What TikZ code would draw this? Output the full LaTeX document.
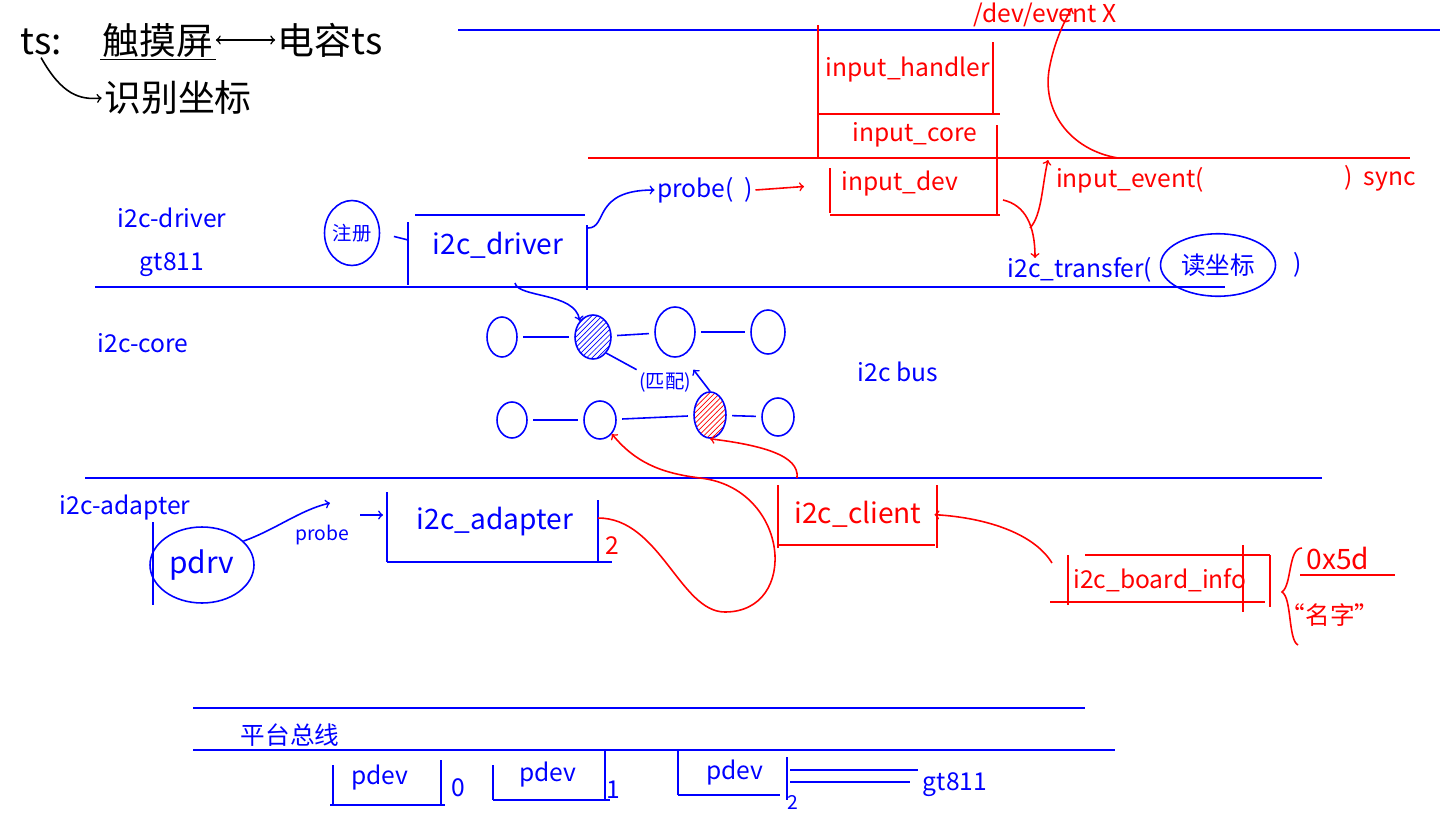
\documentclass[tikz,border=0pt]{standalone}
\usepackage{fontspec}
\setmainfont{Noto Sans CJK SC}
\usetikzlibrary{shapes.geometric,patterns}

\begin{document}
\begin{tikzpicture}[x=0.02cm, y=-0.02cm, line width=0.9pt,
  bl/.style={blue}, rd/.style={red},
  lbl/.style={inner sep=1pt, font=\fontsize{14}{16}\selectfont},
  mid/.style={inner sep=1pt, font=\fontsize{16}{18}\selectfont},
  sml/.style={inner sep=1pt, font=\fontsize{11}{13}\selectfont},
  big/.style={inner sep=1pt, font=\fontsize{21}{24}\selectfont},
  busnode/.style={draw=blue, ellipse, inner sep=0pt},
  link/.style={blue, shorten <=3pt, shorten >=3pt}]
\useasboundingbox (0,0) rectangle (1440,818);

% ts note
\node[big, anchor=west] (ts) at (18,42) {ts:};
\node[big] (tscreen) at (158,40) {触摸屏};
\node[big] (capts) at (330,40) {电容ts};
\draw[<->] (tscreen.east) -- (capts.west);
\draw (tscreen.south west) -- (tscreen.south east);
\node[big] (coord) at (178,98) {识别坐标};
\draw[->] (ts.south) .. controls (62,95) and (80,100) .. (coord.west);

% input layer
\draw[bl] (458,30) -- (1440,30);
\node[lbl, red] (handler) at (908,70) {input\_handler};
\draw[rd] (818,25) -- (818,158);
\draw[rd] (993,42) -- (993,115);
\draw[rd] (818,114) -- (1000,114);
\node[lbl, red] (icore) at (915,135) {input\_core};
\draw[rd] (997,125) -- (997,215);
\draw[rd] (588,158) -- (1410,158);
\node[lbl, red] (idev) at (900,184) {input\_dev};
\draw[rd] (830,168) -- (830,213);
\draw[rd] (830,215) -- (1000,215);
\node[lbl, red] (devev) at (1045,15) {/dev/event X};
\node[lbl, red] (ievent) at (1130,180) {input\_event(};
\node[lbl, red] (isync) at (1380,178) {)\ \ sync};
\coordinate (evfoot) at (1118,158);
\coordinate (evin) at (1072,8);
\draw[rd,->] (evfoot) .. controls (1070,150) and (1040,110) .. (1050,65)
  .. controls (1055,40) and (1065,20) .. (evin);
\coordinate (idevout) at (1003,200);
\coordinate (xferin) at (1035,258);
\draw[rd,->] (idevout) .. controls (1025,205) and (1035,225) .. (xferin);
\coordinate (xferout) at (1030,228);
\coordinate (evup) at (1048,160);
\draw[rd,->] (xferout) .. controls (1042,215) and (1042,185) .. (evup);

% i2c driver layer
\node[lbl, blue] (xfer) at (1080,270) {i2c\_transfer(};
\node[lbl, blue, draw, ellipse, inner sep=0pt, minimum width=2.3cm, minimum height=1.25cm] (readxy) at (1218,265) {读坐标};
\node[lbl, blue] (rpar) at (1298,265) {)};
\draw[bl] (95,287) -- (1225,287);
\node[mid, blue] (drv) at (498,245) {i2c\_driver};
\draw[bl] (415,215) -- (585,215);
\draw[bl] (408,222) -- (408,285);
\draw[bl] (587,225) -- (587,290);
\node[sml, blue, draw, ellipse, inner sep=0pt, minimum width=1.1cm, minimum height=1.3cm] (reg) at (352,233) {注册};
\coordinate (drvin) at (408,240);
\draw[bl, shorten <=8pt] (reg.east) -- (drvin);
\node[lbl, blue] (drvname) at (172,218) {i2c-driver};
\node[lbl, blue] (gt) at (172,265) {gt811};
\node[lbl, blue] (probe) at (705,190) {probe(\ \ )};
\coordinate (drvout) at (588,228);
\draw[bl,->] (drvout) .. controls (608,228) and (592,190) .. (probe.west);
\draw[rd,->, shorten >=20pt] (probe.east) -- (idev.west);

% i2c core
\node[lbl, blue] (core) at (143,343) {i2c-core};
\node[lbl, blue] (bus) at (898,372) {i2c bus};
\node[busnode, minimum width=0.6cm, minimum height=0.8cm] (c11) at (502,337) {};
\node[busnode, pattern=north east lines, pattern color=blue, minimum width=0.72cm, minimum height=0.88cm] (c12) at (593,337) {};
\node[busnode, minimum width=0.8cm, minimum height=1.0cm] (c13) at (675,332) {};
\node[busnode, minimum width=0.68cm, minimum height=0.88cm] (c14) at (768,332) {};
\node[busnode, minimum width=0.6cm, minimum height=0.72cm] (c21) at (512,420) {};
\node[busnode, minimum width=0.64cm, minimum height=0.76cm] (c22) at (600,420) {};
\node[busnode, pattern=north east lines, pattern color=red, minimum width=0.64cm, minimum height=0.92cm] (c23) at (710,415) {};
\node[busnode, minimum width=0.64cm, minimum height=0.76cm] (c24) at (778,417) {};
\draw[link] (c11) -- (c12);
\draw[link] (c12) -- (c13);
\draw[link] (c13) -- (c14);
\draw[link] (c21) -- (c22);
\draw[link] (c22) -- (c23);
\draw[link] (c23) -- (c24);
\node[sml, blue] (match) at (665,382) {(匹配)};
\draw[bl] (c12.south east) -- (match.north west);
\draw[bl,->] (c23.north) -- (match.north east);
\coordinate (drvhook) at (515,283);
\draw[bl,->] (drvhook) .. controls (518,298) and (575,292) .. (c12.north west);

% i2c adapter layer
\draw[bl] (85,478) -- (1322,478);
\node[lbl, blue] (adpname) at (125,508) {i2c-adapter};
\draw[bl] (153,522) -- (153,605);
\node[blue, draw, ellipse, inner sep=0pt, minimum width=2.08cm, minimum height=1.52cm, font=\fontsize{17}{19}\selectfont] (pdrv) at (202,565) {pdrv};
\node[sml, blue] (probe2) at (322,535) {probe};
\coordinate (probetip) at (330,503);
\draw[bl,->] (pdrv.30) .. controls (275,530) and (300,510) .. (probetip);
\coordinate (probeout) at (360,515);
\coordinate (adpin) at (383,515);
\draw[bl,->] (probeout) -- (adpin);
\node[mid, blue] (adp) at (495,522) {i2c\_adapter};
\draw[bl] (387,492) -- (387,562);
\draw[bl] (387,562) -- (612,562);
\draw[bl] (598,500) -- (598,562);
\node[lbl, red] (two) at (612,546) {2};
\coordinate (adpout) at (598,518);
\draw[rd,->] (adpout) .. controls (660,518) and (680,612) .. (725,612)
  .. controls (800,612) and (790,488) .. (700,478)
  .. controls (660,473) and (635,462) .. (c22.south east);
\node[mid, red] (cli) at (858,514) {i2c\_client};
\draw[rd] (778,485) -- (778,548);
\draw[rd] (937,485) -- (937,548);
\draw[rd] (778,545) -- (935,545);
\coordinate (clitop) at (797,478);
\draw[rd,->] (clitop) .. controls (800,455) and (760,445) .. (c23.south);
\node[lbl, red] (binfo) at (1160,580) {i2c\_board\_info};
\draw[rd] (1085,555) -- (1270,555);
\draw[rd] (1068,555) -- (1068,605);
\draw[rd] (1050,602) -- (1265,602);
\draw[rd] (1270,555) -- (1270,607);
\draw[rd] (1243,545) -- (1243,612);
\coordinate (binfoout) at (1052,563);
\draw[rd,->, shorten >=6pt] (binfoout) .. controls (1035,535) and (990,518) .. (cli.east);
\draw[rd] (1302,548) .. controls (1288,548) and (1292,585) .. (1282,592)
  .. controls (1292,598) and (1288,640) .. (1298,645);
\node[mid, red] (addr) at (1338,558) {0x5d};
\draw[rd] (1300,575) -- (1395,575);
\node[lbl, red] (devname) at (1330,615) {“名字”};

% platform bus
\draw[bl] (193,708) -- (1085,708);
\draw[bl] (193,750) -- (1115,750);
\node[lbl, blue] (pbus) at (290,735) {平台总线};
\node[lbl, blue] (pd0) at (380,778) {pdev};
\draw[bl] (333,765) -- (333,805);
\draw[bl] (330,805) -- (445,805);
\draw[bl] (441,760) -- (441,805);
\node[lbl, blue] (n0) at (458,788) {0};
\node[lbl, blue] (pd1) at (548,775) {pdev};
\draw[bl] (493,765) -- (493,800);
\draw[bl] (493,800) -- (610,800);
\draw[bl] (605,750) -- (605,800);
\node[lbl, blue] (n1) at (613,790) {1};
\node[lbl, blue] (pd2) at (735,773) {pdev};
\draw[bl] (678,750) -- (678,795);
\draw[bl] (678,795) -- (780,795);
\draw[bl] (787,757) -- (787,800);
\node[sml, blue] (n2) at (793,802) {2};
\draw[bl] (790,770) -- (918,770);
\draw[bl] (790,782) -- (910,782);
\node[lbl, blue] (gt2) at (955,785) {gt811};
\end{tikzpicture}
\end{document}
